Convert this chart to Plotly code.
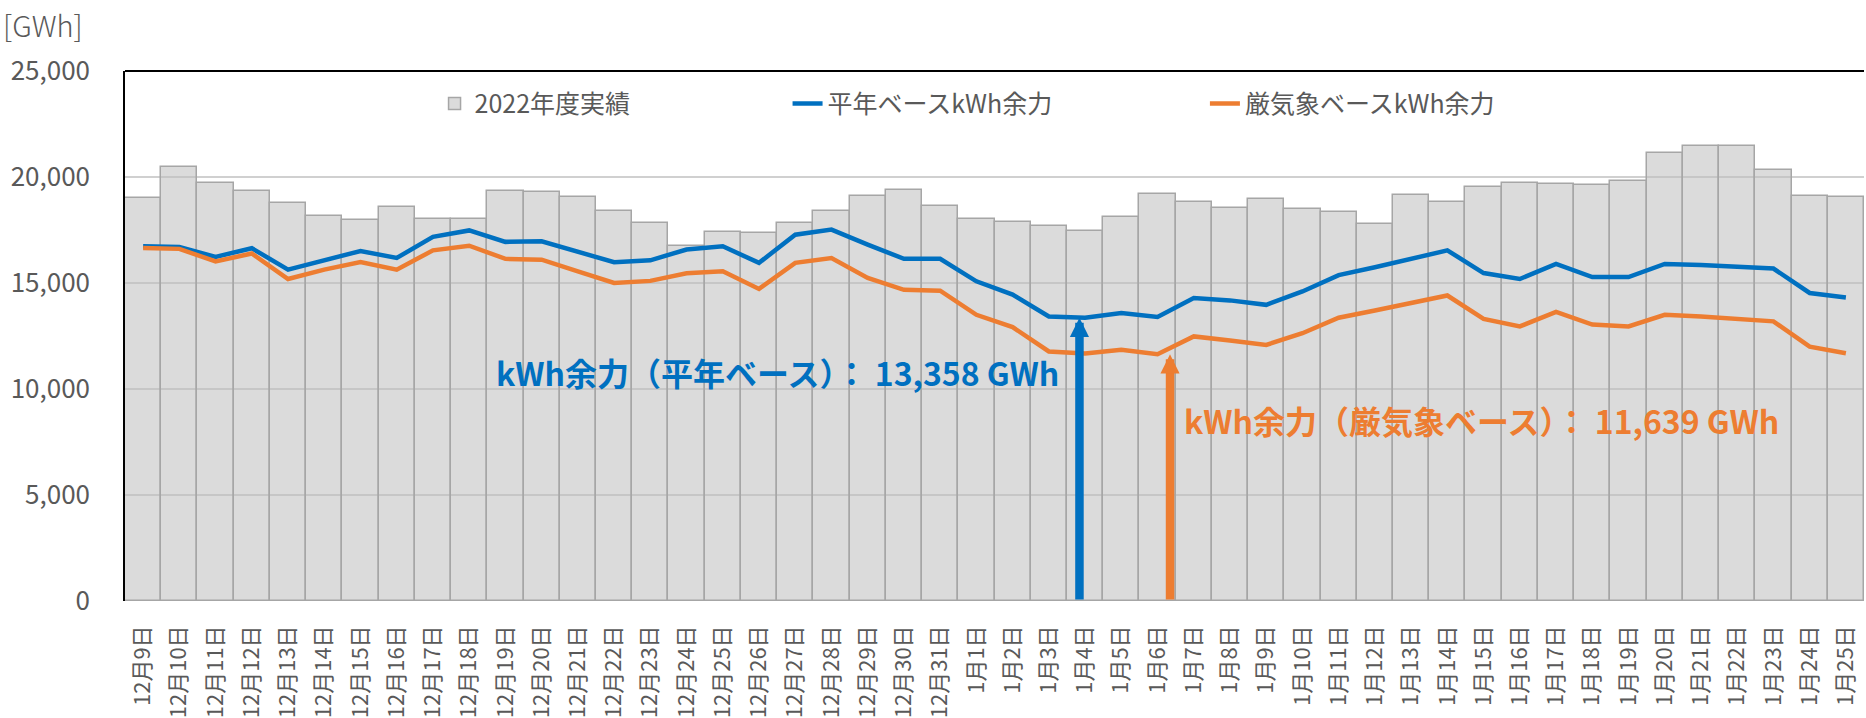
import plotly.graph_objects as go

categories = [
    "12月9日", "12月10日", "12月11日", "12月12日", "12月13日", "12月14日", "12月15日", "12月16日",
    "12月17日", "12月18日", "12月19日", "12月20日", "12月21日", "12月22日", "12月23日", "12月24日",
    "12月25日", "12月26日", "12月27日", "12月28日", "12月29日", "12月30日", "12月31日",
    "1月1日", "1月2日", "1月3日", "1月4日", "1月5日", "1月6日", "1月7日", "1月8日", "1月9日",
    "1月10日", "1月11日", "1月12日", "1月13日", "1月14日", "1月15日", "1月16日", "1月17日",
    "1月18日", "1月19日", "1月20日", "1月21日", "1月22日", "1月23日", "1月24日", "1月25日",
]

actual_2022 = [
    19030, 20490, 19740, 19360, 18760, 18150, 17960, 18570, 18000, 18000, 19360, 19270,
    19080, 18400, 17840, 16760, 17410, 17350, 17840, 18420, 19120, 19410, 18650, 18010,
    17870, 17680, 17460, 18100, 19220, 18840, 18560, 18940, 18470, 18340, 17780, 19170,
    18840, 19530, 19740, 19690, 19640, 19830, 21110, 21440, 21440, 20330, 19120, 19080,
]

normal_base = [
    16730, 16700, 16230, 16640, 15630, 16070, 16510, 16180, 17180, 17480, 16940, 16970,
    16470, 15980, 16070, 16580, 16730, 15950, 17280, 17520, 16810, 16140, 16140, 15080,
    14450, 13420, 13358, 13580, 13400, 14290, 14180, 13970, 14600, 15370, 15740, 16130,
    16540, 15470, 15190, 15900, 15280, 15280, 15900, 15850, 15790, 15680, 14530, 14320,
]

severe_base = [
    16650, 16610, 16020, 16390, 15190, 15630, 15990, 15630, 16540, 16760, 16140, 16100,
    15550, 15000, 15100, 15460, 15550, 14720, 15950, 16180, 15240, 14680, 14640, 13500,
    12920, 11770, 11670, 11850, 11639, 12480, 12290, 12080, 12630, 13360, 13700, 14050,
    14410, 13310, 12950, 13640, 13040, 12950, 13500, 13420, 13330, 13190, 12000, 11690,
]

series_names = ["2022年度実績", "平年ベースkWh余力", "厳気象ベースkWh余力"]
y_ticks = [0, 5000, 10000, 15000, 20000, 25000]

BLUE = "#0070C0"
ORANGE = "#ED7D31"
GRAY_TXT = "#595959"
FONT = "Noto Sans CJK JP"

fig = go.Figure()
fig.add_trace(go.Bar(
    x=categories, y=actual_2022, name=series_names[0],
    marker=dict(color="rgba(190,190,190,0.55)", line=dict(color="#A6A6A6", width=1.5)),
    legend="legend", showlegend=True,
))
fig.add_trace(go.Scatter(
    x=categories, y=normal_base, name=series_names[1], mode="lines",
    line=dict(color=BLUE, width=4.5), legend="legend2", showlegend=True,
))
fig.add_trace(go.Scatter(
    x=categories, y=severe_base, name=series_names[2], mode="lines",
    line=dict(color=ORANGE, width=4.5), legend="legend3", showlegend=True,
))

# minimum points
i_n = normal_base.index(min(normal_base))
i_s = severe_base.index(min(severe_base))
xn = i_n - 0.155
xs = i_s + 0.345

for xpos, val, col in [(xn, normal_base[i_n], BLUE), (xs, severe_base[i_s], ORANGE)]:
    fig.add_annotation(
        x=xpos, y=val, ax=xpos, ay=0, xref="x", yref="y", axref="x", ayref="y",
        text="", showarrow=True, arrowhead=2, arrowsize=0.45, arrowwidth=8.5,
        arrowcolor=col, standoff=0, startstandoff=0,
    )

fig.add_annotation(
    x=xn, y=10800, xref="x", yref="y", xanchor="right", yanchor="middle", xshift=-18,
    text=f"kWh余力（平年ベース）： {normal_base[i_n]:,} GWh", showarrow=False,
    font=dict(family=FONT, size=32, color=BLUE, weight="bold"),
)
fig.add_annotation(
    x=xs, y=8550, xref="x", yref="y", xanchor="left", yanchor="middle", xshift=12,
    text=f"kWh余力（厳気象ベース）： {severe_base[i_s]:,} GWh", showarrow=False,
    font=dict(family=FONT, size=32, color=ORANGE, weight="bold"),
)

fig.add_annotation(
    x=0, y=1, xref="paper", yref="paper", xanchor="left", yanchor="middle",
    xshift=-124, yshift=47,
    text="[GWh]", showarrow=False,
    font=dict(family=FONT, size=29, color=GRAY_TXT, weight=300),
)

# top border line
fig.add_shape(type="line", xref="paper", yref="paper", x0=0, x1=1, y0=1, y1=1,
              line=dict(color="black", width=2))

legend_common = dict(
    orientation="h", yanchor="middle", y=0.938, xanchor="left",
    font=dict(family=FONT, size=25, color=GRAY_TXT), bgcolor="rgba(0,0,0,0)",
)

fig.update_layout(
    width=1866, height=718,
    margin=dict(l=125, r=2, t=71, b=117),
    paper_bgcolor="white", plot_bgcolor="white",
    bargap=0, showlegend=True,
    font=dict(family=FONT, color=GRAY_TXT),
    legend=dict(x=0.178, **legend_common),
    legend2=dict(x=0.381, **legend_common),
    legend3=dict(x=0.621, **legend_common),
    xaxis=dict(
        type="category", tickangle=-90, showgrid=False, showline=False,
        tickfont=dict(family=FONT, size=22, color=GRAY_TXT),
        ticks="", ticklabelstandoff=19, automargin=False,
    ),
    yaxis=dict(
        range=[0, 25000], tickvals=y_ticks, tickformat=",",
        showgrid=True, gridcolor="#D0D0D0", gridwidth=1.5,
        showline=True, linecolor="black", linewidth=1.5,
        tickfont=dict(family=FONT, size=26, color=GRAY_TXT),
        ticks="", ticklabelstandoff=28, zeroline=False, automargin=False,
    ),
)

# remove the default 8px page margin so the figure fills the window exactly
fig.write_html(
    "out.html",
    config={"displayModeBar": False},
    post_script="document.body.style.margin='0';document.body.style.overflow='hidden';",
)
